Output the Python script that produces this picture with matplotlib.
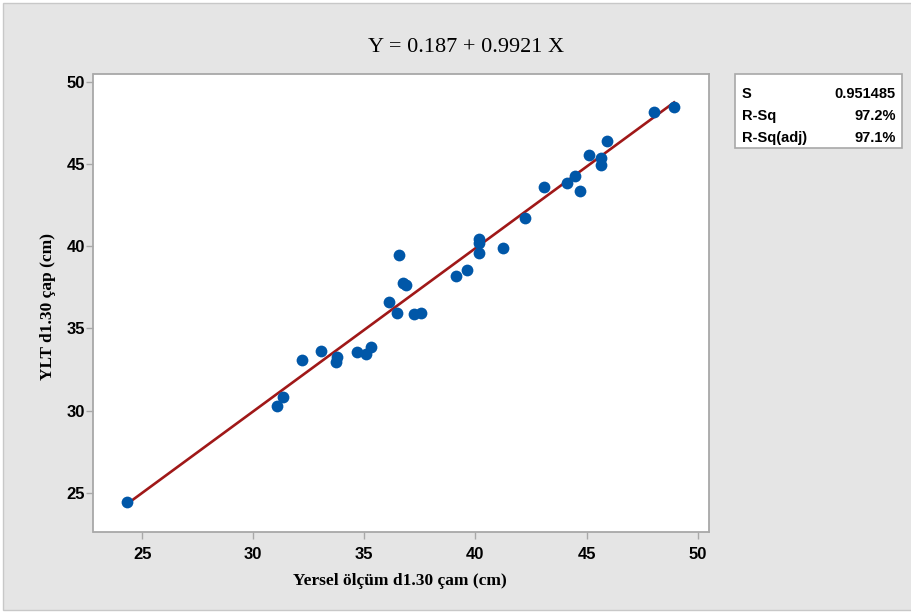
""" Fitted line plot: YLT d1.30 vs ground measurement d1.30 (Minitab style) """

import numpy as np
import matplotlib.pyplot as plt
from matplotlib.patches import Rectangle

# Data
yersel = [24.33, 31.06, 31.33, 32.19, 33.05, 33.76, 33.71, 34.69, 35.06, 35.30,
          36.13, 36.49, 36.58, 36.72, 36.88, 37.23, 37.53, 39.11, 39.61, 40.14,
          40.14, 40.14, 41.24, 42.24, 43.09, 44.13, 44.49, 44.69, 45.12, 45.66,
          45.66, 45.93, 48.04, 48.94]
ylt = [24.45, 30.26, 30.84, 33.05, 33.64, 33.27, 32.97, 33.56, 33.44, 33.84,
       36.62, 35.95, 39.48, 37.74, 37.61, 35.85, 35.95, 38.18, 38.52, 40.46,
       40.21, 39.58, 39.88, 41.71, 43.59, 43.84, 44.26, 43.35, 45.54, 45.36,
       44.93, 46.39, 48.16, 48.46]

intercept = 0.187
slope = 0.9921
stat_names = ['S', 'R-Sq', 'R-Sq(adj)']
stat_values = ['0.951485', '97.2%', '97.1%']

xticks = [25, 30, 35, 40, 45, 50]
yticks = [25, 30, 35, 40, 45, 50]

W, H = 912, 612
fig = plt.figure(figsize=(W / 100, H / 100), dpi=100, facecolor='white')

# grey graph region with thin border (behind everything)
fig.patches.append(Rectangle((3 / W, 1 - 610 / H), 1.0, 607 / H, transform=fig.transFigure,
                             facecolor='#e5e5e5', edgecolor='#c8c8c8', linewidth=1, zorder=-10))

ax = fig.add_axes([93.5 / W, 1 - 531.7 / H, (708.7 - 93.5) / W, (531.7 - 74) / H])
ax.set_zorder(1)
ax.set_facecolor('white')

ax.scatter(yersel, ylt, s=72, color='#0057a8', zorder=3, linewidths=0)
xs = np.array([min(yersel), max(yersel)])
ax.plot(xs, intercept + slope * xs, color='#a01818', linewidth=1.9, zorder=2)

ax.set_xlim(22.81, 50.5)
ax.set_ylim(22.63, 50.47)
ax.set_xticks(xticks)
ax.set_yticks(yticks)

for sp in ax.spines.values():
    sp.set_color('#a8a8a8')
    sp.set_linewidth(1.3)
ax.tick_params(direction='out', length=5, width=1, color='#a8a8a8')
ax.tick_params(axis='x', pad=6)
ax.tick_params(axis='y', pad=1)
for lab in ax.get_xticklabels() + ax.get_yticklabels():
    lab.set_fontfamily('Liberation Sans')
    lab.set_fontweight('bold')
    lab.set_fontsize(12)

ax.set_xlabel('Yersel ölçüm d1.30 çam (cm)', family='Liberation Serif', fontweight='bold',
              fontsize=12.5, va='center')
ax.set_ylabel('YLT d1.30 çap (cm)', family='Liberation Serif', fontweight='bold',
              fontsize=12.5, va='center')
ax.xaxis.set_label_coords(0.498, -0.108)
ax.yaxis.set_label_coords(-0.074, 0.491)

fig.text(466 / W, 1 - 48 / H, 'Y = %.3f + %.4f X' % (intercept, slope), family='Liberation Serif',
         fontsize=16, ha='center', va='center')

# statistics box
fig.patches.append(Rectangle((735 / W, 1 - 147.7 / H), (901.7 - 735) / W, (147.7 - 74) / H,
                             transform=fig.transFigure, facecolor='white',
                             edgecolor='#a8a8a8', linewidth=1.2, zorder=1))
row_y = [94.5, 116, 138]
for name, val, yy in zip(stat_names, stat_values, row_y):
    fig.text(742 / W, 1 - yy / H, name, family='Liberation Sans', fontweight='bold',
             fontsize=10.5, ha='left', va='center', zorder=2)
    fig.text(896 / W, 1 - yy / H, val, family='Liberation Sans', fontweight='bold',
             fontsize=10.5, ha='right', va='center', zorder=2)

fig.savefig('out.png', dpi=100, facecolor=fig.get_facecolor())
